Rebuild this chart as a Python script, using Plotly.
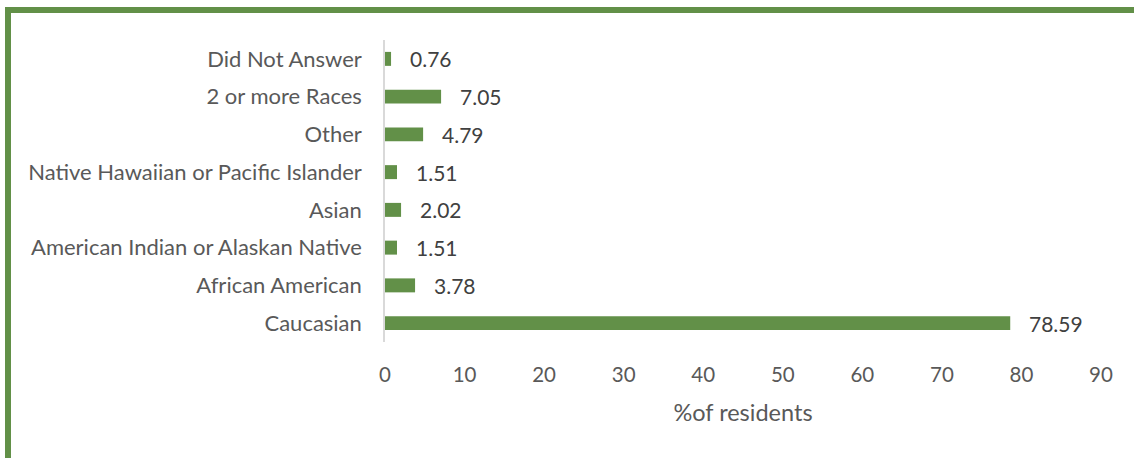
import plotly.graph_objects as go

categories = [
    "Caucasian",
    "African American",
    "American Indian or Alaskan Native",
    "Asian",
    "Native Hawaiian or Pacific Islander",
    "Other",
    "2 or more Races",
    "Did Not Answer",
]
percent = [78.59, 3.78, 1.51, 2.02, 1.51, 4.79, 7.05, 0.76]
x_ticks = [0, 10, 20, 30, 40, 50, 60, 70, 80, 90]

GREEN = "#629048"
FONT = "Lato"

fig = go.Figure()
fig.add_trace(go.Bar(
    x=percent,
    y=categories,
    orientation="h",
    marker=dict(color=GREEN, line=dict(width=0)),
    width=0.37,
    hoverinfo="x+y",
))

# value labels to the right of each bar
for v, c in zip(percent, categories):
    fig.add_annotation(
        x=v, y=c, text=f"{v:.2f}", showarrow=False,
        xanchor="left", yanchor="middle", xshift=17, yshift=0,
        font=dict(family=FONT, size=21, color="#404040"),
    )

# frame on the left and top edges of the chart area
L, T, W, H = 385, 40, 716, 302
def px(xp):
    return (xp - L) / W
def py(yp):
    return (T + H - yp) / H

fig.add_shape(
    type="path", xref="paper", yref="paper",
    path=f"M {px(8)},{py(470)} L {px(8)},{py(10)} L {px(1140)},{py(10)}",
    line=dict(color=GREEN, width=6),
)

fig.update_layout(
    width=1134, height=458,
    margin=dict(l=L, r=1134 - L - W, t=T, b=458 - T - H),
    paper_bgcolor="white", plot_bgcolor="white",
    showlegend=False,
    font=dict(family=FONT, size=20.5, color="#595959"),
    xaxis=dict(
        range=[0, 90], tickvals=x_ticks, showgrid=False, zeroline=False,
        showline=False, ticks="outside", ticklen=14, tickcolor="rgba(0,0,0,0)",
        tickfont=dict(size=20.5, color="#595959"),
        title=dict(text="%of residents", font=dict(size=23.5, color="#595959"), standoff=19),
        fixedrange=True,
    ),
    yaxis=dict(
        showgrid=False, zeroline=False, showline=True, linecolor="#d9d9d9",
        linewidth=1.5, ticks="outside", ticklen=17, tickcolor="rgba(0,0,0,0)",
        tickfont=dict(size=22, color="#595959"),
        categoryorder="array", categoryarray=categories, fixedrange=True,
    ),
)

fig.write_html("out.html")
